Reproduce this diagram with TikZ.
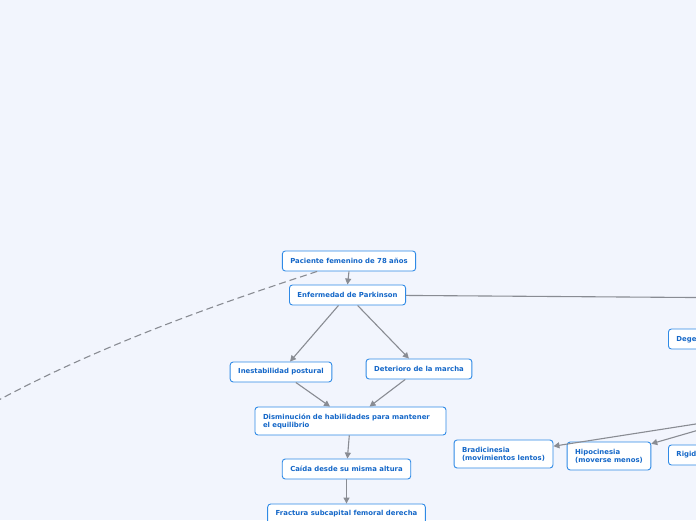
\documentclass[tikz,border=0pt]{standalone}
\usepackage{fontspec}
\setmainfont{DejaVu Sans}
\usepackage{tikz}
\usetikzlibrary{positioning, arrows.meta}
\definecolor{canvas}{HTML}{F2F5FD}
\definecolor{edge}{HTML}{2F8AE6}
\definecolor{ink}{HTML}{1467C8}
\definecolor{wire}{HTML}{898C93}

\begin{document}
\begin{tikzpicture}[x=1pt, y=-1pt,
  topic/.style={draw=edge, line width=0.9pt, rounded corners=3pt, fill=white,
                minimum height=20pt, inner xsep=8pt, inner ysep=2pt,
                font=\fontsize{6.9}{8}\selectfont\bfseries, text=ink, align=left},
  twoline/.style={topic, minimum height=28pt},
  link/.style={draw=wire, line width=1.1pt, -{Triangle[length=6pt,width=6pt]}},
  plain/.style={draw=wire, line width=1.1pt}
]

  \useasboundingbox (0,0) rectangle (696,520);
  \clip (0,0) rectangle (696,520);
  \fill[canvas] (0,0) rectangle (696,520);

  % off-canvas hubs
  \coordinate (lostend) at (-40,422);
  \coordinate (degenhub) at (900,299);
  \coordinate (sintomas) at (747,416);

  \node[topic] (paciente) at (349,261) {Paciente femenino de 78 años};
  \node[topic] (parkinson) at (347.5,295) {Enfermedad de Parkinson};
  \node[topic] (inestab) at (281,372) {Inestabilidad postural};
  \node[topic] (marcha) at (419,369) {Deterioro de la marcha};
  \node[twoline, text width=175pt] (equilibrio) at (350.5,421)
    {Disminución de habilidades para mantener\\el equilibrio};
  \node[topic] (caida) at (346.5,469) {Caída desde su misma altura};
  \node[topic] (fractura) at (346.5,514) {Fractura subcapital femoral derecha};
  \node[twoline] (bradi) at (503.5,454) {Bradicinesia\\(movimientos lentos)};
  \node[twoline] (hipo) at (609,456) {Hipocinesia\\(moverse menos)};
  \node[topic, anchor=west] (degen) at (668,339) {Degeneración};
  \node[topic, anchor=west] (rigidez) at (668,455) {Rigidez};

  % connectors
  \draw[plain, dash pattern=on 7pt off 4pt] (paciente) .. controls (230,300) and (80,350) .. (lostend);
  \draw[link] (paciente.south) -- (parkinson.north);
  \draw[plain] (parkinson) -- (degenhub);
  \draw[link] (parkinson) -- (inestab);
  \draw[link] (parkinson) -- (marcha);
  \draw[link] (inestab) -- (equilibrio);
  \draw[link] (marcha) -- (equilibrio);
  \draw[link] (equilibrio) -- (caida);
  \draw[link] (caida) -- (fractura);
  \draw[link] (sintomas) -- (bradi);
  \draw[link] (sintomas) -- (hipo);

\end{tikzpicture}
\end{document}
